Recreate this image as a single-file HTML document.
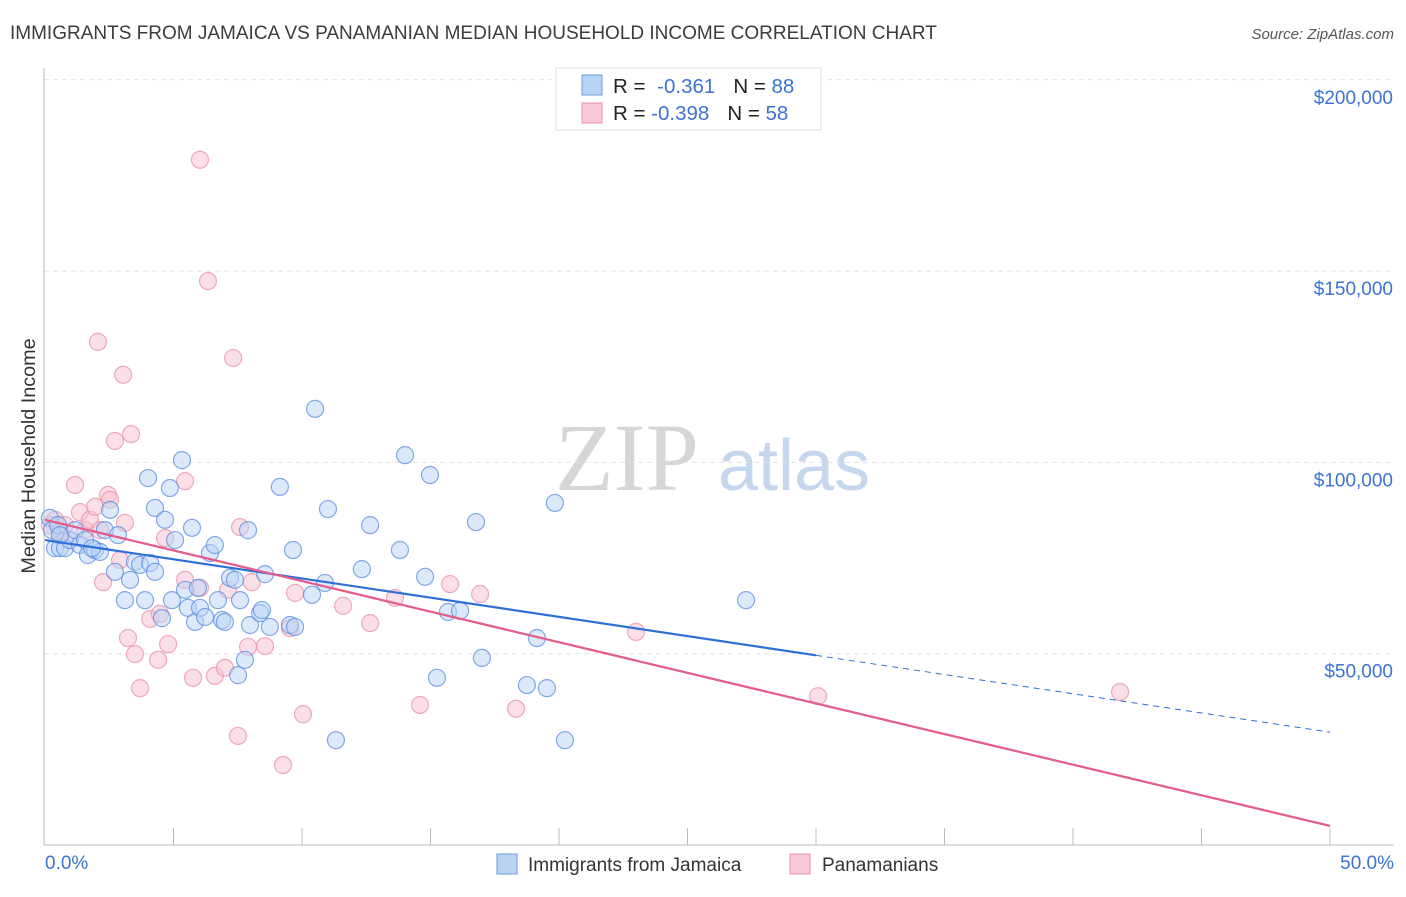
<!DOCTYPE html>
<html><head><meta charset="utf-8"><style>
body{margin:0;background:#fff;font-family:"Liberation Sans",sans-serif;}
svg text{font-family:"Liberation Sans",sans-serif;}
</style></head><body>
<svg id="chart" width="1406" height="892" viewBox="0 0 1406 892">
<text x="10" y="39" font-size="19" fill="#3c3c3c">IMMIGRANTS FROM JAMAICA VS PANAMANIAN MEDIAN HOUSEHOLD INCOME CORRELATION CHART</text>
<text x="1394" y="39" font-size="15" fill="#555" font-style="italic" text-anchor="end">Source: ZipAtlas.com</text>
<g>
<text x="555" y="490" font-size="96" fill="#d6d6d6" font-family="Liberation Serif" style="font-family:'Liberation Serif',serif">ZIP</text>
<text x="718" y="490" font-size="72" fill="#c5d7ef">atlas</text>
</g>
<g id="grid"></g>
<g id="axes"></g>
<g id="pts"></g>
<g id="lines"></g>
<text x="35" y="456" font-size="19.8" fill="#333" text-anchor="middle" transform="rotate(-90 35 456)">Median Household Income</text>
<g>
<rect x="556" y="68" width="265" height="62" fill="#fff" stroke="#ddd"/>
<rect x="582" y="75" width="20" height="20" fill="#b9d3f5" stroke="#6c9be0"/>
<rect x="582" y="103" width="20" height="20" fill="#fbc9d8" stroke="#ea8fab"/>
<text x="613" y="93" font-size="20.5" fill="#222">R = <tspan fill="#3b73d4" dx="6">-0.361</tspan><tspan dx="18" fill="#222">N = </tspan><tspan fill="#3b73d4">88</tspan></text>
<text x="613" y="120" font-size="20.5" fill="#222">R = <tspan fill="#3b73d4">-0.398</tspan><tspan dx="18" fill="#222">N = </tspan><tspan fill="#3b73d4">58</tspan></text>
</g>
<g>
<rect x="497" y="854" width="20" height="20" fill="#b9d3f5" stroke="#6c9be0"/>
<text x="528" y="871" font-size="19" fill="#333">Immigrants from Jamaica</text>
<rect x="790" y="854" width="20" height="20" fill="#fbc9d8" stroke="#ea8fab"/>
<text x="822" y="871" font-size="19" fill="#333">Panamanians</text>
</g>
</svg>
<script>
const yTicks=[50000,100000,150000,200000];
const yTickLabels=["$50,000","$100,000","$150,000","$200,000"];
const xTickCount=10;
const blueX=[0.19,0.39,0.58,0.78,0.27,0.51,0.97,1.17,1.36,1.56,1.67,1.95,2.14,2.53,2.33,2.84,2.72,3.31,3.11,3.50,3.70,4.09,4.28,3.89,4.01,4.28,4.55,4.67,4.86,4.94,5.06,5.33,5.45,5.56,5.72,5.84,6.03,6.23,5.95,6.42,6.61,6.73,6.89,7.00,7.20,7.39,7.51,7.59,7.78,7.90,7.98,8.37,8.44,8.56,8.75,9.14,9.53,9.73,9.65,10.39,10.51,10.89,11.01,11.32,12.33,12.65,13.81,14.01,14.79,14.98,15.25,15.68,16.15,16.77,17.00,18.75,19.14,19.53,19.84,20.23,27.28,1.83,0.58];
const blueY=[85.5,77.6,77.6,77.6,82.3,83.6,79.7,82.3,78.4,79.7,75.8,77.1,76.6,87.6,82.3,81.0,71.4,69.3,64.0,74.0,73.2,73.7,71.4,64.0,95.9,88.1,59.3,85.0,93.3,64.0,79.7,100.6,66.7,62.0,82.9,58.3,62.0,59.6,67.2,76.3,78.4,64.0,58.8,58.3,69.8,69.3,44.4,64.0,48.4,82.3,57.5,60.6,61.4,70.8,57.0,93.6,57.5,57.0,77.1,65.4,114.0,68.5,87.8,27.4,72.1,83.6,77.1,101.9,70.1,96.7,43.7,60.9,61.2,84.4,48.9,41.8,54.1,41.0,89.4,27.4,64.0,77.6,81.0];
const pinkX=[0.19,0.39,0.58,0.78,0.97,1.17,1.36,1.56,1.75,1.95,2.14,2.06,2.26,2.45,2.53,2.72,2.92,3.04,3.11,3.23,3.35,3.50,3.70,4.09,4.40,4.47,4.67,4.79,5.45,5.45,5.76,6.03,6.34,6.61,7.00,7.12,7.32,7.51,7.59,7.90,8.05,8.56,9.53,9.26,9.73,10.04,11.60,12.65,13.62,14.59,15.76,16.93,18.33,23.0,30.08,41.83,6.03];
const pinkY=[83.6,85.0,82.3,83.6,79.7,94.1,87.0,82.3,85.0,88.4,82.3,131.5,68.7,91.5,90.2,105.6,74.5,122.9,84.2,54.1,107.4,49.9,41.0,59.1,48.4,60.4,80.2,52.5,69.3,95.1,43.7,179.1,147.4,44.2,46.3,66.7,127.3,28.5,83.1,51.8,68.7,52.0,56.7,20.9,65.9,34.2,62.5,58.0,64.6,36.6,68.2,65.6,35.6,55.7,38.9,40.0,67.2];
const blueTrend=[79.7,29.5];
const blueSolidEnd=30;
const pinkTrend=[85.0,5.0];
const NS="http://www.w3.org/2000/svg";
const X0=45,X1=1330,Y0=845;
function sx(p){return X0+p/50*(X1-X0);}
function sy(v){return Y0-v/50000*191.3;}
function mk(tag,attrs,parent){const e=document.createElementNS(NS,tag);for(const k in attrs)e.setAttribute(k,attrs[k]);parent.appendChild(e);return e;}
const grid=document.getElementById('grid'),axes=document.getElementById('axes'),pts=document.getElementById('pts'),lines=document.getElementById('lines');
yTicks.forEach((t,i)=>{
 const l=mk('line',{x1:44,x2:1394,y1:sy(t),y2:sy(t),stroke:'#e2e2e2','stroke-dasharray':'5,4'},grid);
 
 
 const tx=mk('text',{x:1393,y:sy(t)+24,'font-size':19,fill:'#3b73d4','text-anchor':'end'},axes);
 tx.textContent=yTickLabels[i];
 
 
});
const ya=mk('line',{x1:44,x2:44,y1:68,y2:845,stroke:'#bbb'},axes);


const xa=mk('line',{x1:44,x2:1394,y1:845,y2:845,stroke:'#bbb'},axes);


for(let i=1;i<=xTickCount;i++){
 const tk=mk('line',{x1:sx(i*5),x2:sx(i*5),y1:845,y2:828,stroke:'#bbb'},axes);
 
 
}
const xl0=mk('text',{x:45,y:869,'font-size':19,fill:'#3b73d4'},axes);xl0.textContent='0.0%';


const xl1=mk('text',{x:1394,y:869,'font-size':19,fill:'#3b73d4','text-anchor':'end'},axes);xl1.textContent='50.0%';


function drawPts(xs,ys,fill,stroke,name){xs.forEach((x,i)=>{
 const c=mk('circle',{cx:sx(x),cy:sy(ys[i]*1000),r:8.5,fill:fill,'fill-opacity':0.5,stroke:stroke,'stroke-opacity':0.75,'stroke-width':1.2},pts);
 
 
});}
drawPts(pinkX,pinkY,'#f8bfd0','#ea8fab','panamanian-point');
drawPts(blueX,blueY,'#b9d3f5','#5b8ee0','jamaica-point');
function ty(tr,p){return (tr[0]+(tr[1]-tr[0])*p/50)*1000;}
const bl=mk('line',{x1:sx(0),y1:sy(ty(blueTrend,0)),x2:sx(blueSolidEnd),y2:sy(ty(blueTrend,blueSolidEnd)),stroke:'#2d6fd6','stroke-width':2.2},lines);


const bd=mk('line',{x1:sx(blueSolidEnd),y1:sy(ty(blueTrend,blueSolidEnd)),x2:sx(50),y2:sy(ty(blueTrend,50)),stroke:'#2d6fd6','stroke-width':1,'stroke-dasharray':'6,5'},lines);


const pl=mk('line',{x1:sx(0),y1:sy(ty(pinkTrend,0)),x2:sx(50),y2:sy(ty(pinkTrend,50)),stroke:'#e35d89','stroke-width':2.2},lines);


</script>
</body></html>
